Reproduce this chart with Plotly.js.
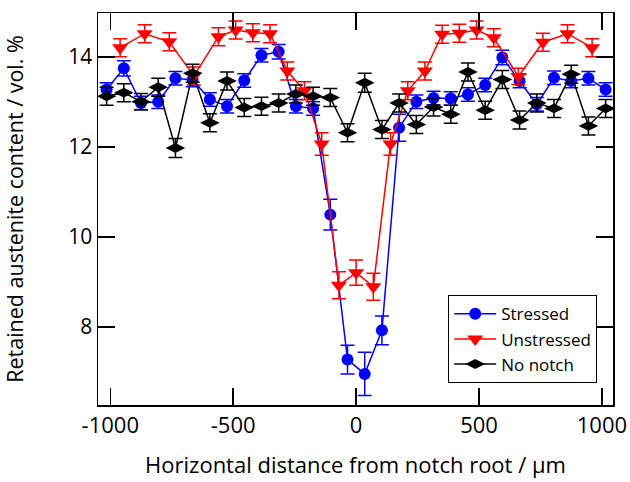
<!DOCTYPE html>
<html>
<head>
<meta charset="utf-8">
<script src="https://cdn.plot.ly/plotly-3.0.1.min.js"></script>
<style>html,body{margin:0;padding:0;background:#fff;}#chart{width:630px;height:482px;}</style>
</head>
<body>
<div id="chart"></div>
<script>
// Stressed (blue circles)
const stressedX = [-1015,-945,-875,-805,-735,-665,-595,-525,-455,-385,-315,-245,-175,-105,-35,35,105,175,245,315,385,455,525,595,665,735,805,875,945,1015];
const stressedY = [13.28,13.75,12.98,13.01,13.53,13.49,13.06,12.91,13.48,14.04,14.12,12.91,12.86,10.50,7.28,6.96,7.93,12.43,13.01,13.09,13.08,13.17,13.38,13.99,13.47,12.95,13.54,13.47,13.53,13.28];
const stressedErr = [0.15,0.17,0.15,0.15,0.15,0.15,0.15,0.15,0.15,0.15,0.16,0.15,0.15,0.34,0.32,0.48,0.32,0.3,0.15,0.15,0.15,0.15,0.15,0.16,0.15,0.15,0.15,0.15,0.15,0.15];

// Unstressed (red triangles)
const unstressedX = [-960,-860,-760,-660,-560,-490,-420,-350,-280,-210,-140,-70,0,70,140,210,280,350,420,490,560,660,760,860,960];
const unstressedY = [14.21,14.52,14.34,13.58,14.45,14.60,14.54,14.52,13.69,13.25,12.07,8.93,9.21,8.90,12.07,13.25,13.69,14.51,14.53,14.60,14.43,13.57,14.33,14.52,14.21];
const unstressedErr = [0.2,0.2,0.2,0.2,0.2,0.2,0.2,0.2,0.2,0.2,0.25,0.3,0.28,0.3,0.25,0.2,0.2,0.2,0.2,0.2,0.2,0.18,0.2,0.2,0.2];

// No notch (black diamonds)
const noNotchX = stressedX.slice();
const noNotchY = [13.13,13.21,13.01,13.33,11.98,13.64,12.54,13.47,12.88,12.91,12.98,13.18,13.13,13.10,12.32,13.43,12.39,12.98,12.50,12.89,12.73,13.67,12.82,13.50,12.60,12.98,12.86,13.62,12.47,12.86];
const noNotchErr = [0.2,0.2,0.18,0.2,0.21,0.2,0.2,0.2,0.2,0.2,0.2,0.2,0.2,0.2,0.2,0.21,0.2,0.2,0.2,0.2,0.2,0.2,0.2,0.2,0.2,0.2,0.2,0.2,0.2,0.2];

const xTicks = [-1000,-500,0,500,1000];
const yTicks = [8,10,12,14];

function series(name, x, y, err, color, symbol, size) {
  return {
    type: 'scatter', mode: 'lines+markers', name: name,
    x: x, y: y,
    line: {color: color, width: 1.5},
    marker: {color: color, symbol: symbol, size: size},
    error_y: {type: 'data', array: err, visible: true, color: color, thickness: 1.5, width: 7}
  };
}

const data = [
  series('Stressed', stressedX, stressedY, stressedErr, '#0000ff', 'circle', 12),
  series('Unstressed', unstressedX, unstressedY, unstressedErr, '#ff0000', 'triangle-down', 14),
  series('No notch', noNotchX, noNotchY, noNotchErr, '#000000', 'diamond-wide', 14)
];

const font = {family: '"Open Sans", "Noto Sans", sans-serif', color: '#000'};

const layout = {
  width: 630, height: 482,
  margin: {l: 98, r: 17, t: 13, b: 77},
  paper_bgcolor: '#fff', plot_bgcolor: '#fff',
  font: Object.assign({size: 18}, font),
  showlegend: true,
  legend: {
    x: 0.68, y: 0.28, xanchor: 'left', yanchor: 'top',
    bgcolor: '#fff', bordercolor: '#000', borderwidth: 1,
    itemwidth: 42, tracegroupgap: 0,
    font: Object.assign({size: 17}, font)
  },
  xaxis: {
    range: [-1050, 1045],
    tickvals: xTicks, ticktext: xTicks.map(String),
    ticks: 'inside', ticklen: 17, tickwidth: 1.5, tickcolor: '#000',
    showline: true, linecolor: '#000', linewidth: 1.5, mirror: 'ticks',
    showgrid: false, zeroline: false,
    tickfont: Object.assign({size: 22}, font),
    title: {text: 'Horizontal distance from notch root / µm', font: Object.assign({size: 22}, font), standoff: 19}
  },
  yaxis: {
    range: [6.27, 14.98],
    tickvals: yTicks, ticktext: yTicks.map(String),
    ticks: 'inside', ticklen: 17, tickwidth: 1.5, tickcolor: '#000',
    showline: true, linecolor: '#000', linewidth: 1.5, mirror: 'ticks',
    showgrid: false, zeroline: false,
    tickfont: Object.assign({size: 21}, font),
    title: {text: 'Retained austenite content / vol. %', font: Object.assign({size: 21.5}, font), standoff: 48}
  }
};

Plotly.newPlot('chart', data, layout, {displayModeBar: false, staticPlot: true});
</script>
</body>
</html>
